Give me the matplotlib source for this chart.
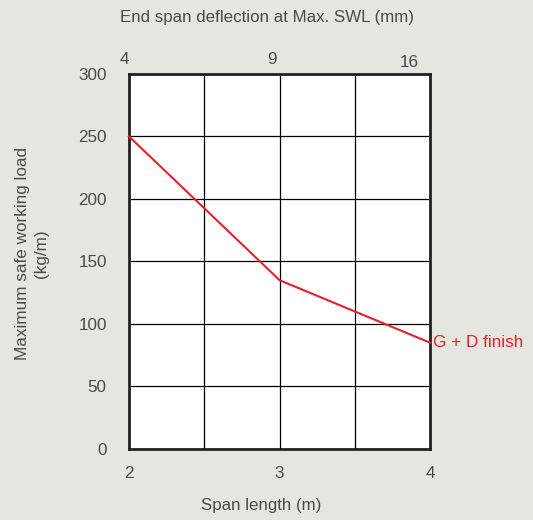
import matplotlib.pyplot as plt
from matplotlib.transforms import ScaledTranslation

plt.rcParams['font.family'] = ['Liberation Sans', 'DejaVu Sans']

span = [2, 3, 4]
load = [250, 135, 85]
deflection_labels = ["4", "9", "16"]
series_name = "G + D finish"

bg = "#e6e6e1"
txt = "#4a4a4a"
red = "#e8202a"

fig = plt.figure(figsize=(5.33, 5.20), dpi=100, facecolor=bg)
ax = fig.add_axes([0.242, 0.1365, 0.565, 0.7215])
ax.set_facecolor("white")

ax.plot(span, load, color=red, lw=1.5, zorder=3, clip_on=False)
ax.text(span[-1] + 0.02, load[-1], series_name, color=red, fontsize=12.3,
        ha="left", va="center")

ax.set_xlim(2, 4)
ax.set_ylim(0, 300)
ax.set_xticks([2, 2.5, 3, 3.5, 4])
ax.set_xticklabels(["2", "", "3", "", "4"])
ax.set_yticks(range(0, 301, 50))
ax.grid(True, color="black", lw=0.9)
ax.tick_params(length=0, labelsize=12.3, labelcolor=txt, pad=12)
ax.tick_params(axis="y", pad=16)
for s in ax.spines.values():
    s.set_linewidth(2)
    s.set_color("#222222")

# top axis: end span deflection
top = ax.secondary_xaxis("top")
top.set_xticks(span)
top.set_xticklabels(deflection_labels)
top.tick_params(length=0, labelsize=12.3, labelcolor=txt, pad=5)
for s in top.spines.values():
    s.set_visible(False)
offsets = [(-5, 0), (-8, 0), (-21, -3)]
for lab, (dx, dy) in zip(top.get_xticklabels(), offsets):
    lab.set_transform(lab.get_transform() + ScaledTranslation(dx / 100, dy / 100, fig.dpi_scale_trans))

fig.text(0.50, 0.967, "End span deflection at Max. SWL (mm)", color=txt,
         fontsize=12.2, ha="center", va="center")
fig.text(0.49, 0.027, "Span length (m)", color=txt, fontsize=12.2,
         ha="center", va="center")
fig.text(0.060, 0.512, "Maximum safe working load\n(kg/m)", color=txt,
         fontsize=12.3, ha="center", va="center", rotation=90, linespacing=1.35)

fig.savefig("out.png", dpi=100, facecolor=bg)
